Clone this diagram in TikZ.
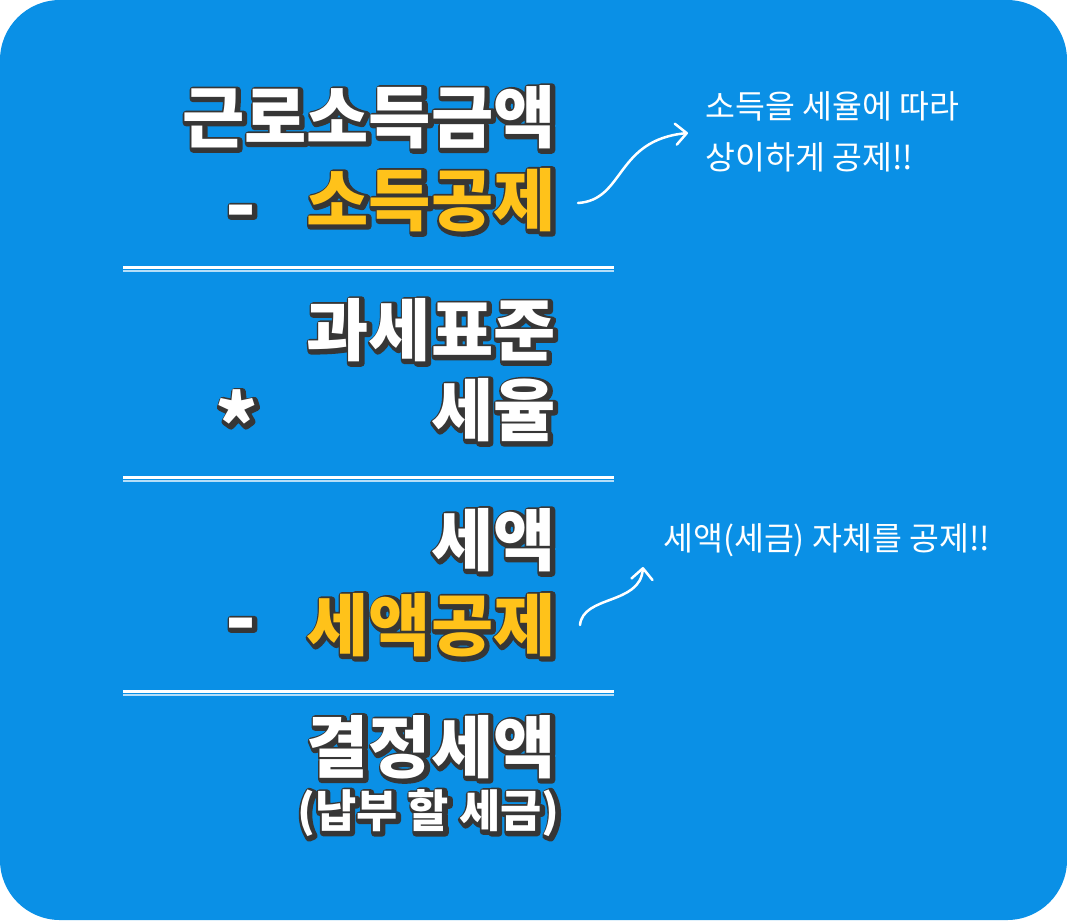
\documentclass[tikz,border=0pt]{standalone}
\usepackage{fontspec}
\usepackage{xcolor}
\newfontfamily\krfont{Noto Sans CJK KR}
\usetikzlibrary{arrows.meta,calc,positioning}

\definecolor{bgblue}{HTML}{0A90E6}
\definecolor{dedyellow}{HTML}{FFC21A}
\definecolor{shade}{HTML}{363636}

% stroked glyphs for the dark rim under each label
\newcommand\rimtext{\special{pdf:literal direct 2 Tr 4 w 1 j}}

% outlined label: [style] name, anchor, position, colour, text
\newcommand\outlabel[6][bigtext]{%
  \node[#1, text=shade, anchor=#3] (#2-rim) at ($(#4)+(1.5,1.5)$) {\rimtext#6};
  \node[#1, text=#5, anchor=#3] (#2) at (#4) {#6};
}

\begin{document}
\begin{tikzpicture}[x=0.02cm, y=-0.02cm,
  bigtext/.style={font=\krfont\bfseries\fontsize{38.5}{42}\selectfont, inner sep=0pt},
  signtext/.style={font=\krfont\bfseries\fontsize{46}{50}\selectfont, inner sep=0pt},
  smalltext/.style={font=\krfont\bfseries\fontsize{25.5}{30}\selectfont, inner sep=0pt},
  notetext/.style={font=\krfont\fontsize{18.5}{29}\selectfont, text=white, inner sep=0pt, align=left},
  sepline/.style={draw=white, line width=2.5*0.02cm},
  septhin/.style={draw=white!70!bgblue, line width=1.5*0.02cm},
  notearrow/.style={draw=white, line width=2.5*0.02cm, line cap=round,
    -{Straight Barb[length=0.22cm, width=0.42cm, round]}}]
  \useasboundingbox (0,0) rectangle (1067,920);
  \fill[bgblue, rounded corners=1.2cm] (0,0) rectangle (1067,920);

  % income block
  \outlabel{gross}{east}{556,117}{white}{근로소득금액}
  \outlabel[signtext]{minus1}{center}{241,219}{white}{-}
  \outlabel{ded1}{east}{556,200}{dedyellow}{소득공제}
  \draw[sepline] (123,267.5) -- (614,267.5);
  \draw[septhin] (123,271) -- (614,271);

  % tax base times rate
  \outlabel{base}{east}{556,330}{white}{과세표준}
  \outlabel[signtext]{times}{center}{237,423}{white}{*}
  \outlabel{rate}{east}{556,410}{white}{세율}
  \draw[sepline] (123,477.5) -- (614,477.5);
  \draw[septhin] (123,481) -- (614,481);

  % tax minus tax credit
  \outlabel{tax}{east}{556,540}{white}{세액}
  \outlabel[signtext]{minus2}{center}{241,632}{white}{-}
  \outlabel{ded2}{east}{556,625}{dedyellow}{세액공제}
  \draw[sepline] (123,691.5) -- (614,691.5);
  \draw[septhin] (123,695) -- (614,695);

  % final tax
  \outlabel{final}{east}{556,747}{white}{결정세액}
  \outlabel[smalltext]{payable}{east}{560,813}{white}{(납부 할 세금)}

  % notes
  \node[notetext, anchor=west] (note1) at (705,132) {소득을 세율에 따라\\상이하게 공제!!};
  \node[notetext, anchor=west] (note2) at (663,540) {세액(세금) 자체를 공제!!};

  \coordinate (tip1) at ($(note1.west)+(-17,1)$);
  \coordinate (tip2) at ($(note2.west)+(-20,27)$);
  \draw[notearrow] ($(ded1.east)+(22,3)$) .. controls +(47,-3) and +(-73,7) .. (tip1);
  \draw[notearrow] ($(ded2.east)+(24,0)$) .. controls +(3,-30) and +(-3,38) .. (tip2);
\end{tikzpicture}
\end{document}
